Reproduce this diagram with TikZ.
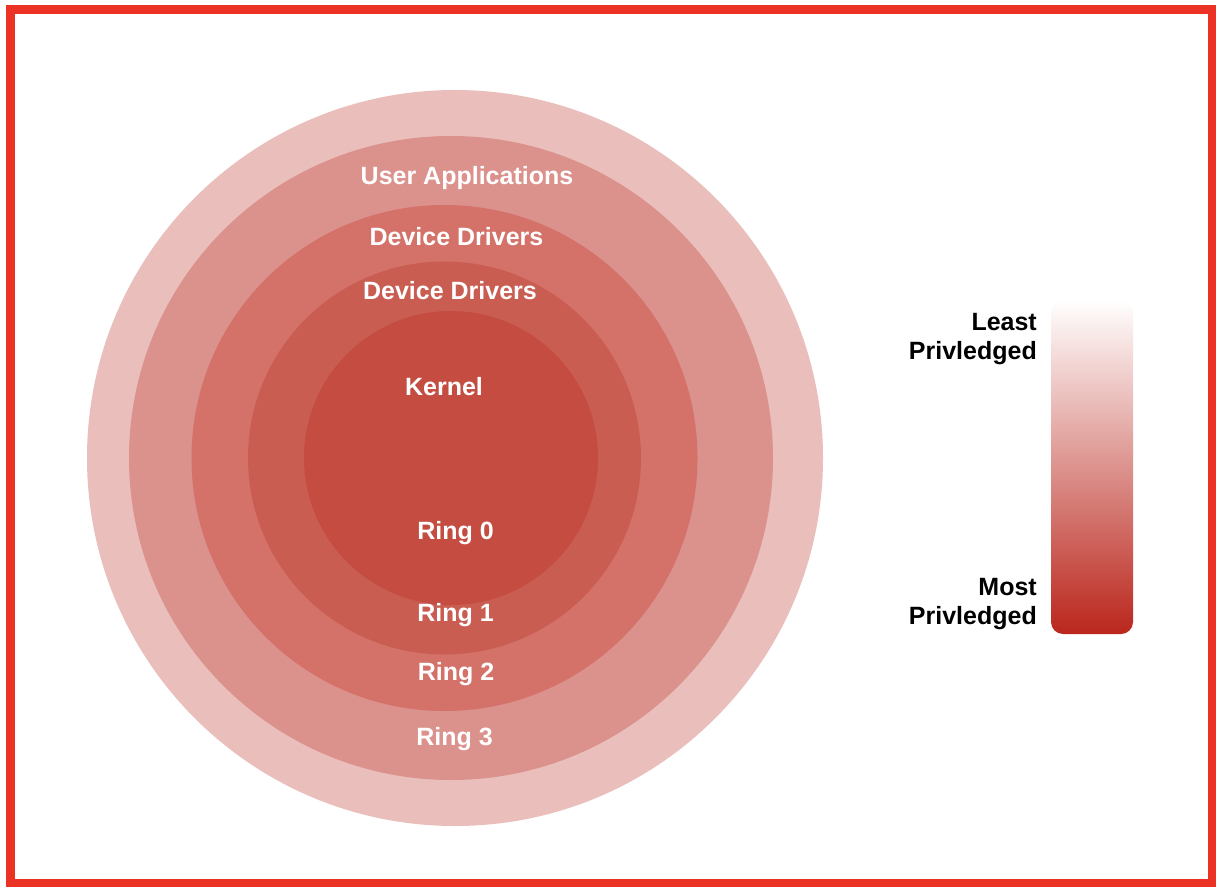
\documentclass[tikz,border=0pt]{standalone}
\usepackage{fontspec}
\setmainfont{Liberation Sans}
\usepackage{xcolor}
\usetikzlibrary{calc}

\definecolor{frameRed}{RGB}{236,50,36}
\definecolor{ringThree}{RGB}{234,190,187}
\definecolor{ringTwoOut}{RGB}{219,145,140}
\definecolor{ringTwo}{RGB}{212,114,106}
\definecolor{ringOne}{RGB}{201,93,82}
\definecolor{ringZero}{RGB}{196,76,65}
\definecolor{barRed}{RGB}{186,38,28}

\tikzset{
  ringlabel/.style={text=white, font=\bfseries\fontsize{25}{29}\selectfont, anchor=base, inner sep=0pt},
  keylabel/.style={text=black, font=\bfseries\fontsize{25}{29}\selectfont, align=right, anchor=north east, inner sep=0pt}
}

\begin{document}
\begin{tikzpicture}[x=1pt, y=-1pt]
  \useasboundingbox (0,0) rectangle (1226,896);
  \fill[white] (0,0) rectangle (1226,896);
  % rings, outside in
  \fill[ringThree] (455,458) circle (368);
  \fill[ringTwoOut] (451,458) circle (322);
  \fill[ringTwo] (444.5,458) circle (253);
  \fill[ringOne] (444.5,458) circle (196.5);
  \fill[ringZero] (451,458) circle (147);
  % ring labels
  \node[ringlabel] (userapps) at (467,184.5) {User Applications};
  \node[ringlabel] (drivers2) at (456.5,245.5) {Device Drivers};
  \node[ringlabel] (drivers1) at (450,299) {Device Drivers};
  \node[ringlabel] (kernel) at (444,395.5) {Kernel};
  \node[ringlabel] (ring0) at (455.5,539) {Ring 0};
  \node[ringlabel] (ring1) at (455.5,621) {Ring 1};
  \node[ringlabel] (ring2) at (456,680.5) {Ring 2};
  \node[ringlabel] (ring3) at (454.5,745) {Ring 3};
  % privilege scale
  \shade[top color=white, bottom color=barRed, rounded corners=12pt] (1051,300) rectangle (1133,634);
  \node[keylabel] (least) at (1037,313.5) {Least\\Privledged};
  \node[keylabel] (most) at (1037,578) {Most\\Privledged};
  \draw[frameRed, line width=8.5pt] (10.5,9.5) rectangle (1212,883);
\end{tikzpicture}
\end{document}
